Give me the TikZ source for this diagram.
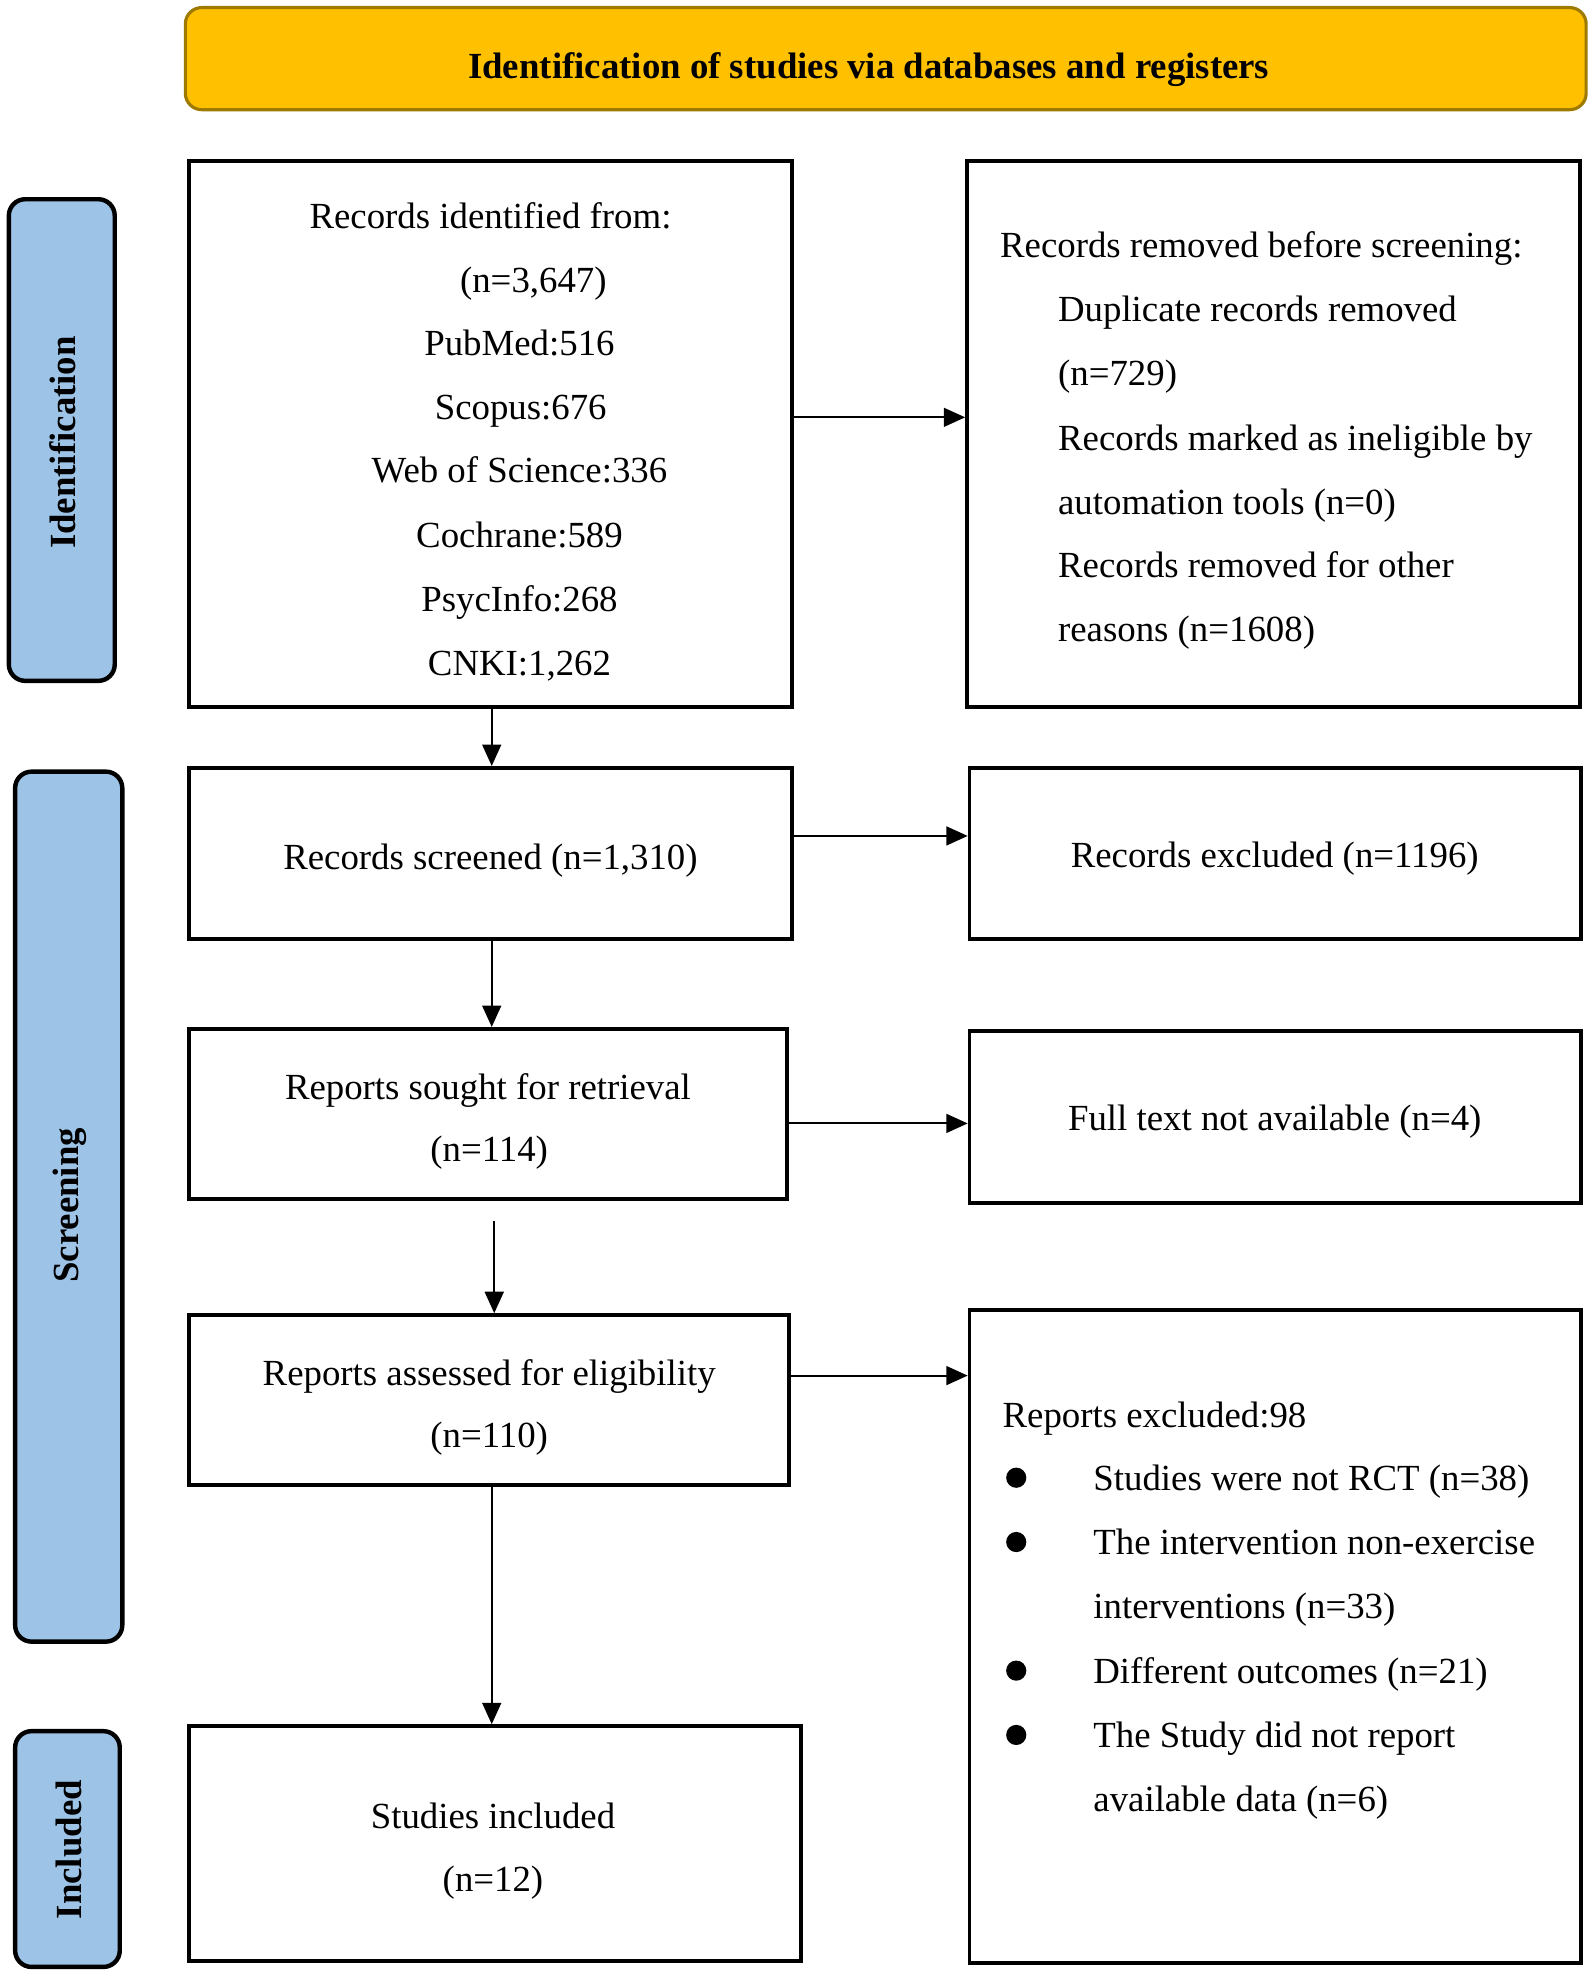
\documentclass[tikz,border=0pt]{standalone}
\usepackage{fontspec}
\setmainfont{Liberation Serif}
\usetikzlibrary{arrows.meta}
\definecolor{hdrfill}{HTML}{FFC000}
\definecolor{hdrdraw}{HTML}{9E7A00}
\definecolor{sidefill}{HTML}{9DC3E6}
\begin{document}
\begin{tikzpicture}[x=1pt,y=-1pt,
  box/.style={draw=black, line width=3pt, inner sep=0pt, fill=white},
  txt/.style={font=\fontsize{29.2}{50.6}\selectfont, inner sep=0pt, text height=20pt, text depth=0pt},
  hdr/.style={draw=hdrdraw, fill=hdrfill, line width=2.5pt, rounded corners=13pt, inner sep=0pt},
  side/.style={draw=black, fill=sidefill, line width=3.5pt, rounded corners=13pt, inner sep=0pt},
  sidelab/.style={font=\fontsize{29.2}{30}\selectfont\bfseries, rotate=90, inner sep=0pt},
  arr/.style={line width=1.6pt, -{Triangle[length=17pt,width=15pt]}},
  dot/.style={circle, fill=black, inner sep=0pt, minimum size=16pt}
]
\useasboundingbox (0,0) rectangle (1265,1568);

% header
\node[hdr, minimum width=1111pt, minimum height=81pt] (hdr) at (702.5,46.5) {};
\node[txt, font=\fontsize{29.2}{30}\selectfont\bfseries] (hdrtxt) at (689,52) {Identification of studies via databases and registers};

% side bars
\node[side, minimum width=84pt, minimum height=382pt] (s1) at (49,349) {};
\node[sidelab] (s1t) at (50,351) {Identification};
\node[side, minimum width=85pt, minimum height=690pt] (s2) at (54.5,957) {};
\node[sidelab] (s2t) at (55.5,956) {Screening};
\node[side, minimum width=83pt, minimum height=187pt] (s3) at (53.5,1466.5) {};
\node[sidelab] (s3t) at (54.5,1467) {Included};

% boxes
\node[box, minimum width=478pt, minimum height=433pt] (b1) at (389,344.5) {};
\node[box, minimum width=486pt, minimum height=433pt] (b2) at (1010,344.5) {};
\node[box, minimum width=478pt, minimum height=136pt] (b3) at (389,677) {};
\node[box, minimum width=485pt, minimum height=136pt] (b4) at (1011.5,677) {};
\node[box, minimum width=474pt, minimum height=135pt] (b5) at (387,883.5) {};
\node[box, minimum width=485pt, minimum height=136pt] (b6) at (1011.5,886) {};
\node[box, minimum width=476pt, minimum height=135pt] (b7) at (388,1110.5) {};
\node[box, minimum width=485pt, minimum height=518pt] (b8) at (1011.5,1298) {};
\node[box, minimum width=485pt, minimum height=186pt] (b9) at (392.5,1462) {};

% box 1 text
\node[txt] (t1a) at (389,171) {Records identified from:};
\node[txt] (t1b) at (423,222) {(n=3,647)};
\node[txt] (t1c) at (412,272) {PubMed:516};
\node[txt] (t1d) at (413,323) {Scopus:676};
\node[txt] (t1e) at (412,373) {Web of Science:336};
\node[txt] (t1f) at (412,424) {Cochrane:589};
\node[txt] (t1g) at (412,475) {PsycInfo:268};
\node[txt] (t1h) at (412,526) {CNKI:1,262};

% box 2 text
\node[txt, anchor=west] (t2a) at (793,194) {Records removed before screening:};
\node[txt, anchor=west] (t2b) at (839,245) {Duplicate records removed};
\node[txt, anchor=west] (t2c) at (839,296) {(n=729)};
\node[txt, anchor=west] (t2d) at (839,347) {Records marked as ineligible by};
\node[txt, anchor=west] (t2e) at (839,398) {automation tools (n=0)};
\node[txt, anchor=west] (t2f) at (839,448) {Records removed for other};
\node[txt, anchor=west] (t2g) at (839,499) {reasons (n=1608)};

% other boxes
\node[txt] (t3) at (389,680) {Records screened (n=1,310)};
\node[txt] (t4) at (1011,678) {Records excluded (n=1196)};
\node[txt] (t5a) at (387,862) {Reports sought for retrieval};
\node[txt] (t5b) at (388,911) {(n=114)};
\node[txt] (t6) at (1011,887) {Full text not available (n=4)};
\node[txt] (t7a) at (388,1089) {Reports assessed for eligibility};
\node[txt] (t7b) at (388,1138) {(n=110)};
\node[txt] (t9a) at (391,1440) {Studies included};
\node[txt] (t9b) at (391,1490) {(n=12)};

% box 8 text
\node[txt, anchor=west] (t8a) at (795,1122) {Reports excluded:98};
\node[dot] (d1) at (806,1172) {};
\node[txt, anchor=west] (t8b) at (867,1172) {Studies were not RCT (n=38)};
\node[dot] (d2) at (806,1223) {};
\node[txt, anchor=west] (t8c) at (867,1223) {The intervention non-exercise};
\node[txt, anchor=west] (t8d) at (867,1274) {interventions (n=33)};
\node[dot] (d3) at (806,1325) {};
\node[txt, anchor=west] (t8e) at (867,1325) {Different outcomes (n=21)};
\node[dot] (d4) at (806,1376) {};
\node[txt, anchor=west] (t8f) at (867,1376) {The Study did not report};
\node[txt, anchor=west] (t8g) at (867,1427) {available data (n=6)};

% connector helpers
\coordinate (y12) at (0,331);
\coordinate (y34) at (0,663);
\coordinate (y56) at (0,891);
\coordinate (y78) at (0,1091);
\coordinate (xa) at (390,0);
\coordinate (xb) at (392,0);
\coordinate (yb) at (0,968);

% connectors
\draw[arr] (b1.east |- y12) -- (b2.west |- y12);
\draw[arr] (b3.east |- y34) -- (b4.west |- y34);
\draw[arr] (b5.east |- y56) -- (b6.west |- y56);
\draw[arr] (b7.east |- y78) -- (b8.west |- y78);
\draw[arr] (b1.south -| xa) -- (b3.north -| xa);
\draw[arr] (b3.south -| xa) -- (b5.north -| xa);
\draw[arr] (xb |- yb) -- (b7.north -| xb);
\draw[arr] (b7.south -| xa) -- (b9.north -| xa);
\end{tikzpicture}
\end{document}
